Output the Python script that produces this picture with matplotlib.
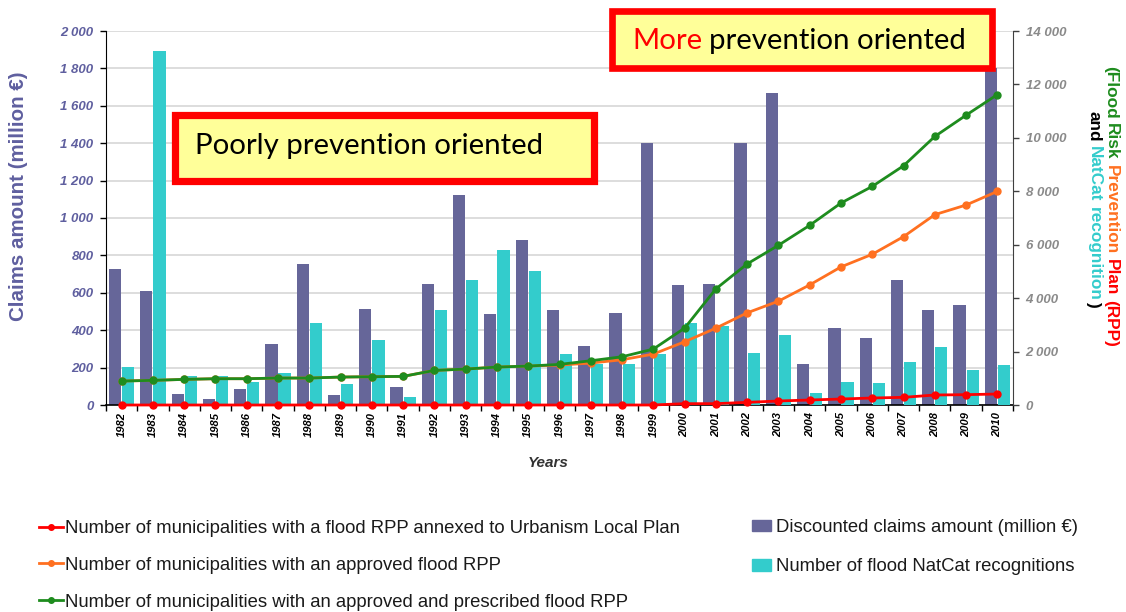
import matplotlib
matplotlib.use("Agg")
import matplotlib.pyplot as plt
from matplotlib.patches import Rectangle, Patch
from matplotlib.lines import Line2D
from matplotlib.ticker import FixedLocator, FuncFormatter
import numpy as np

years = [str(y) for y in range(1982, 2011)]
claims = [728, 609, 60, 34, 87, 324, 756, 53, 514, 98, 649, 1125, 484, 884,
          509, 315, 493, 1400, 641, 648, 1400, 1667, 219, 411, 358, 671, 507, 534, 1800]
natcat = [1420, 13265, 1084, 1096, 847, 1208, 3064, 772, 2416, 311, 3562, 4683, 5804, 5032,
          1918, 1520, 1544, 1906, 3064, 2952, 1956, 2603, 448, 847, 810, 1594, 2155, 1295, 1495]
rpp_prescribed = [897, 922, 959, 984, 984, 1009, 1009, 1046, 1059, 1071, 1295, 1345, 1420, 1457,
                  1520, 1657, 1806, 2093, 2877, 4347, 5281, 5979, 6726, 7560, 8183, 8955, 10052, 10849, 11621]
rpp_approved = [897, 922, 959, 984, 984, 1009, 1009, 1046, 1059, 1071, 1295, 1345, 1420, 1457,
                1495, 1569, 1694, 1906, 2366, 2877, 3450, 3886, 4496, 5169, 5642, 6302, 7125, 7486, 7996]
rpp_annexed = [0, 0, 0, 0, 0, 0, 0, 0, 0, 0, 0, 0, 0, 0, 0, 0, 0, 0,
               50, 50, 100, 150, 187, 224, 262, 287, 374, 387, 411]

PURPLE = "#666699"
CYAN = "#33CCCC"
GREEN = "#1E8C1E"
ORANGE = "#FF7020"
RED = "#FF0000"

W, H = 1126, 612
fig = plt.figure(figsize=(W / 100, H / 100), dpi=100)
plt.rcParams['font.family'] = ['Liberation Sans', 'DejaVu Sans']

ax = fig.add_axes([106 / W, 1 - 405 / H, (1013 - 106) / W, (405 - 31) / H])
ax2 = ax.twinx()

x = np.arange(len(years))
bw = 0.39
ax.bar(x - 0.21, claims, width=bw, color=PURPLE, zorder=2, label="Discounted claims amount (million €)")
ax2.bar(x + 0.21, natcat, width=bw, color=CYAN, zorder=2, label="Number of flood NatCat recognitions")

la, = ax2.plot(x, rpp_approved, color=ORANGE, lw=2, marker='o', ms=5, zorder=4,
               label="Number of municipalities with an approved flood RPP")
lg, = ax2.plot(x, rpp_prescribed, color=GREEN, lw=2, marker='o', ms=5, zorder=5,
               label="Number of municipalities with an approved and prescribed flood RPP")
lr, = ax2.plot(x, rpp_annexed, color=RED, lw=2, marker='o', ms=5, zorder=6, clip_on=False,
               label="Number of municipalities with a flood RPP annexed to Urbanism Local Plan")

ax.set_xlim(-0.5, len(years) - 0.5)
ax.set_ylim(0, 2000)
ax2.set_ylim(0, 14000)

ax.set_yticks(np.arange(0, 2001, 200))
ax2.set_yticks(np.arange(0, 14001, 2000))
fmt = FuncFormatter(lambda v, p: f"{v:,.0f}".replace(",", " "))
ax.yaxis.set_major_formatter(fmt)
ax2.yaxis.set_major_formatter(fmt)

ax.yaxis.grid(True, color="#DADADA", lw=1.3, zorder=0)
ax.set_axisbelow(True)

for lab in ax.get_yticklabels():
    lab.set_fontstyle('italic'); lab.set_fontweight('bold'); lab.set_color("#5F5F9F"); lab.set_fontsize(9.5)
for lab in ax2.get_yticklabels():
    lab.set_fontstyle('italic'); lab.set_fontweight('bold'); lab.set_color("#8A8A8A"); lab.set_fontsize(9.5)
ax.tick_params(axis='y', length=4, width=1, pad=5)
ax2.tick_params(axis='y', length=4, width=1, pad=5, color="#404040")

ax.set_xticks(x)
ax.set_xticklabels(years, rotation=90, fontsize=8, fontweight='bold', fontstyle='italic')
ax.xaxis.set_minor_locator(FixedLocator(np.arange(-0.5, len(years), 1.0)))
ax.tick_params(axis='x', which='major', length=0, pad=5)
ax.tick_params(axis='x', which='minor', length=4, width=1)

for a in (ax, ax2):
    a.spines['top'].set_visible(False)
ax.spines['left'].set_color('black')
ax.spines['bottom'].set_color('black')
ax.spines['bottom'].set_linewidth(1.2)
ax2.spines['right'].set_color('#404040')
ax2.spines['left'].set_visible(False)
ax2.spines['bottom'].set_visible(False)
ax.spines['right'].set_visible(False)

ax.set_xlabel("Years", fontsize=11, fontweight='bold', fontstyle='italic', color="#333333")
ax.xaxis.set_label_coords((548 - 106) / (1013 - 106), -(456 - 405) / (405 - 31))

fig.canvas.draw()
renderer = fig.canvas.get_renderer()


def fit_len(t, target, vertical=False):
    fs = t.get_fontsize()
    for _ in range(3):
        bb = t.get_window_extent(renderer)
        cur = bb.height if vertical else bb.width
        fs = fs * target / cur
        t.set_fontsize(fs)
    return fs


ylab = fig.text(19 / W, 1 - 196 / H, "Claims amount (million €)", rotation=90, ha='center', va='center',
                fontsize=12, fontweight='bold', color="#5F5F9F")
fit_len(ylab, 250, vertical=True)


def stack_vertical(xc, ytop, pieces, fs):
    y = H - ytop
    texts = []
    for s, c in pieces:
        t = fig.text(xc / W, y / H, s, rotation=270, ha='center', va='top', color=c,
                     fontsize=fs, fontweight='bold')
        bb = t.get_window_extent(renderer)
        y = bb.y0 - fs * 0.28 * 100 / 72
        texts.append(t)
    return texts, y


def total_len(xc, ytop, pieces, fs):
    texts, yend = stack_vertical(xc, ytop, pieces, fs)
    for t in texts:
        t.remove()
    return (H - ytop) - yend - fs * 0.28 * 100 / 72


line1 = [("(Flood", GREEN), ("Risk", GREEN), ("Prevention", ORANGE), ("Plan", RED), ("(RPP)", RED)]
fs_r = 10.5
for _ in range(3):
    L = total_len(1111, 66, line1, fs_r)
    fs_r = fs_r * 282 / L
stack_vertical(1111, 66, line1, fs_r)
t2, yend = stack_vertical(1094, 111, [("and", "black"), ("NatCat", CYAN), ("recognition", CYAN)], fs_r)
bb = t2[-1].get_window_extent(renderer)
fig.text(1094 / W, (bb.y0 - 1) / H, ")", rotation=270, ha='center', va='top', color='black',
         fontsize=fs_r, fontweight='bold')

# Annotation boxes
fig.add_artist(Rectangle((174.75 / W, 1 - 181 / H), (594.25 - 174.75) / W, (181 - 114.75) / H,
                         transform=fig.transFigure, facecolor="#FFFF99", edgecolor=RED, lw=5.2, zorder=10))
fig.add_artist(Rectangle((611.75 / W, 1 - 67.7 / H), (991.5 - 611.75) / W, (67.7 - 10.7) / H,
                         transform=fig.transFigure, facecolor="#FFFF99", edgecolor=RED, lw=4.8, zorder=10))

t1 = fig.text(195 / W, 1 - 146 / H, "Poorly prevention oriented", ha='left', va='center',
              fontsize=20, family=['Lato', 'DejaVu Sans'], color='black', zorder=11)
fs1 = fit_len(t1, 348)
tm = fig.text(632 / W, 1 - 41 / H, "More", ha='left', va='center', fontsize=fs1,
              family=['Lato', 'DejaVu Sans'], color=RED, zorder=11)
bbm = tm.get_window_extent(renderer)
fig.text((bbm.x1 + fs1 * 0.25 * 100 / 72) / W, 1 - 41 / H, "prevention oriented", ha='left', va='center',
         fontsize=fs1, family=['Lato', 'DejaVu Sans'], color='black', zorder=11)

# Legends
leg_font = ['Liberation Sans', 'DejaVu Sans']
LFS = 13.3
h1 = [Line2D([], [], color=RED, lw=2, marker='o', ms=4),
      Line2D([], [], color=ORANGE, lw=2, marker='o', ms=4),
      Line2D([], [], color=GREEN, lw=2, marker='o', ms=4)]
l1 = [lr.get_label(), la.get_label(), lg.get_label()]
leg1 = fig.legend(h1, l1, loc='upper left', bbox_to_anchor=(39 / W, 1 - 520 / H), frameon=False,
                  prop={'family': leg_font, 'size': LFS}, handlelength=1.3, handletextpad=0.1,
                  labelspacing=1.08, borderaxespad=0, borderpad=0, labelcolor="#1A1A1A")
h2 = [Patch(color=PURPLE), Patch(color=CYAN)]
l2 = ["Discounted claims amount (million €)", "Number of flood NatCat recognitions"]
leg2 = fig.legend(h2, l2, loc='upper left', bbox_to_anchor=(752 / W, 1 - 519 / H), frameon=False,
                  prop={'family': leg_font, 'size': LFS}, handlelength=1.05, handleheight=0.6,
                  handletextpad=0.25, labelspacing=1.2, borderaxespad=0, borderpad=0, labelcolor="#1A1A1A")

fig.savefig("out.png", dpi=100)
